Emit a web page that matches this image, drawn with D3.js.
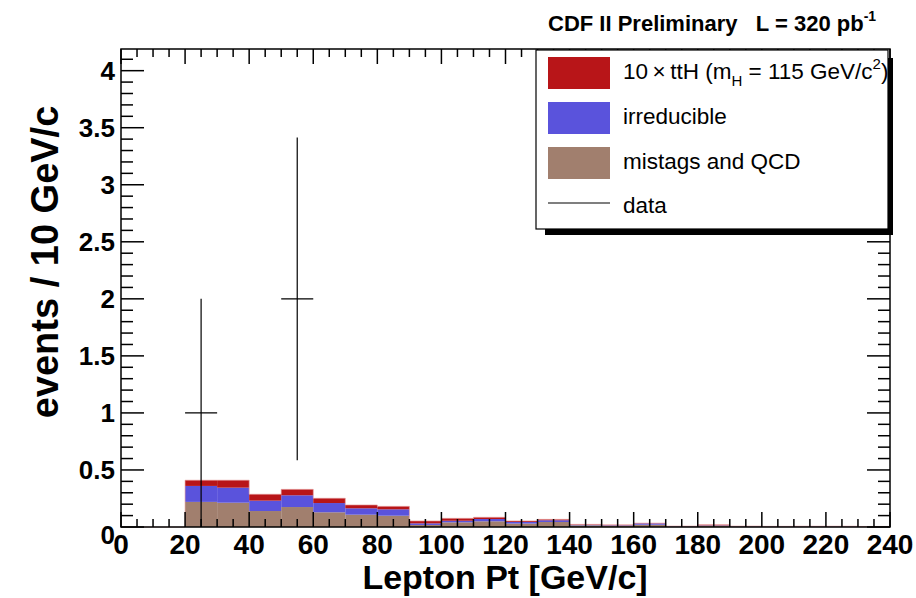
<!DOCTYPE html>
<html>
<head>
<meta charset="utf-8">
<script src="https://cdn.jsdelivr.net/npm/d3@7"></script>
<style>
  html, body { margin: 0; padding: 0; background: #fff; }
  svg { display: block; font-family: "Liberation Sans", Arial, Helvetica, sans-serif; }
</style>
</head>
<body>
<svg id="chart" width="916" height="598"></svg>
<script>
// Bin lower edges (GeV/c), 10 GeV wide
const binEdges = [0,10,20,30,40,50,60,70,80,90,100,110,120,130,140,150,160,170,180,190,200,210,220,230];
const binWidth = 10;

// Stacked backgrounds + signal, events / 10 GeV/c
const mistagsQCD = [0,0,0.220,0.213,0.140,0.175,0.129,0.108,0.099,0.018,0.041,0.050,0.030,0.044,0.015,0.012,0.020,0.005,0.012,0.005,0.003,0.004,0.004,0.003];
const irreducible = [0,0,0.140,0.132,0.091,0.103,0.081,0.056,0.056,0.014,0.014,0.020,0.014,0.015,0.004,0.004,0.012,0.002,0.003,0.002,0.002,0.002,0.002,0.001];
const tthX10 =      [0,0,0.050,0.065,0.056,0.052,0.042,0.029,0.026,0.021,0.021,0.015,0.009,0.008,0.004,0.003,0.002,0.001,0.005,0.001,0.001,0.001,0.001,0.001];

// Observed data (bin centre, count, sqrt(N) error)
const dataX = [25, 55];
const dataY = [1, 2];
const dataErr = [1, Math.SQRT2];

// Axis ticks
const xMajorTicks = [0,20,40,60,80,100,120,140,160,180,200,220,240];
const yMajorTicks = [0,0.5,1,1.5,2,2.5,3,3.5,4];
const yTickLabels = ["0","0.5","1","1.5","2","2.5","3","3.5","4"];

const colors = { mistags: "#a17f6e", irreducible: "#5a53dc", tth: "#b81518" };

const svg = d3.select("#chart");
const L = 121, R = 890, T = 49, B = 527;

const x = d3.scaleLinear().domain([0, 240]).range([L, R]);
const y = d3.scaleLinear().domain([0, 4.19]).range([B, T]);

// Stacked histogram
const rows = binEdges.map((e, i) => ({ lo: e, mistags: mistagsQCD[i], irreducible: irreducible[i], tth: tthX10[i] }));
const stack = d3.stack().keys(["mistags", "irreducible", "tth"]);
const layers = stack(rows);

const plot = svg.append("g");
plot.selectAll("g.layer").data(layers).join("g")
  .attr("class", "layer")
  .attr("fill", d => colors[d.key])
  .selectAll("rect").data(d => d).join("rect")
  .attr("x", d => x(d.data.lo))
  .attr("width", d => x(d.data.lo + binWidth) - x(d.data.lo))
  .attr("y", d => y(d[1]))
  .attr("height", d => Math.max(0, y(d[0]) - y(d[1])));

// Outline of the total stack
const outline = [];
rows.forEach(r => {
  const tot = r.mistags + r.irreducible + r.tth;
  outline.push([r.lo, tot], [r.lo + binWidth, tot]);
});
plot.append("path")
  .attr("d", d3.line().x(d => x(d[0])).y(d => y(d[1]))(outline))
  .attr("fill", "none").attr("stroke", "#e49a9a").attr("stroke-width", 1).attr("opacity", 0.6);

// Frame
svg.append("rect").attr("x", L).attr("y", T).attr("width", R - L).attr("height", B - T)
  .attr("fill", "none").attr("stroke", "#000").attr("stroke-width", 1.5);

// Ticks on all four sides
const tk = svg.append("g").attr("stroke", "#000").attr("stroke-width", 1.5);
const xMinor = d3.range(0, 241, 5);
xMinor.forEach(v => {
  const major = v % 20 === 0;
  const len = major ? 15 : 8;
  tk.append("line").attr("x1", x(v)).attr("x2", x(v)).attr("y1", B).attr("y2", B - len);
  tk.append("line").attr("x1", x(v)).attr("x2", x(v)).attr("y1", T).attr("y2", T + len);
});
const yMinor = d3.range(0, 42).map(i => i / 10);
yMinor.forEach(v => {
  const major = Math.round(v * 10) % 5 === 0;
  const len = major ? 23 : 12;
  tk.append("line").attr("x1", L).attr("x2", L + len).attr("y1", y(v)).attr("y2", y(v));
  tk.append("line").attr("x1", R).attr("x2", R - len).attr("y1", y(v)).attr("y2", y(v));
});

// Data points with error bars
const dg = svg.append("g").attr("stroke", "#000").attr("stroke-width", 1.2);
dataX.forEach((cx, i) => {
  dg.append("line").attr("x1", x(cx)).attr("x2", x(cx))
    .attr("y1", y(Math.max(0, dataY[i] - dataErr[i]))).attr("y2", y(dataY[i] + dataErr[i]));
  dg.append("line").attr("x1", x(cx - binWidth / 2)).attr("x2", x(cx + binWidth / 2))
    .attr("y1", y(dataY[i])).attr("y2", y(dataY[i]));
});

// Tick labels
const lab = svg.append("g").attr("font-weight", "bold").attr("fill", "#000");
xMajorTicks.forEach(v => {
  lab.append("text").attr("x", x(v)).attr("y", 554).attr("font-size", 28)
    .attr("text-anchor", "middle").text(v);
});
yMajorTicks.forEach((v, i) => {
  lab.append("text").attr("x", 115).attr("y", y(v) + (v === 0 ? 8 : 0)).attr("font-size", 26)
    .attr("dy", "0.36em").attr("text-anchor", "end").text(yTickLabels[i]);
});

// Axis titles
svg.append("text").attr("x", 505).attr("y", 589).attr("text-anchor", "middle")
  .attr("font-weight", "bold").attr("font-size", 34).text("Lepton Pt [GeV/c]");
svg.append("text").attr("transform", "translate(58,262) rotate(-90)").attr("text-anchor", "middle")
  .attr("font-weight", "bold").attr("font-size", 38).text("events / 10 GeV/c");

// Header
const hdr = svg.append("text").attr("x", 548).attr("y", 31).attr("font-weight", "bold")
  .attr("font-size", 22).attr("xml:space", "preserve").style("white-space", "pre");
hdr.append("tspan").text("CDF II Preliminary   L = 320 pb");
hdr.append("tspan").attr("dy", -10).attr("font-size", 14).text("-1");

// Legend with drop shadow
const lg = svg.append("g");
lg.append("rect").attr("x", 545).attr("y", 58).attr("width", 348).attr("height", 177).attr("fill", "#000");
lg.append("rect").attr("x", 536).attr("y", 50).attr("width", 352).attr("height", 179)
  .attr("fill", "#fff").attr("stroke", "#000").attr("stroke-width", 1.2);

const legendItems = [
  { key: "tth", y0: 57 },
  { key: "irreducible", y0: 102 },
  { key: "mistags", y0: 147 }
];
legendItems.forEach(it => {
  lg.append("rect").attr("x", 548).attr("y", it.y0).attr("width", 62).attr("height", 32).attr("fill", colors[it.key]);
});
lg.append("line").attr("x1", 548).attr("x2", 610).attr("y1", 203).attr("y2", 203)
  .attr("stroke", "#000").attr("stroke-width", 1.2);

const lt = lg.append("g").attr("font-size", 22.5).attr("fill", "#000");
const t1 = lt.append("text").attr("x", 623).attr("y", 79);
t1.append("tspan").text("10\u2009\u00d7\u2009ttH (m");
t1.append("tspan").attr("dy", 7).attr("font-size", 15).text("H");
t1.append("tspan").attr("dy", -7).text(" = 115 GeV/c");
t1.append("tspan").attr("dy", -10).attr("font-size", 15).text("2");
t1.append("tspan").attr("dy", 10).text(")");
lt.append("text").attr("x", 623).attr("y", 124).text("irreducible");
lt.append("text").attr("x", 623).attr("y", 169).text("mistags and QCD");
lt.append("text").attr("x", 623).attr("y", 213).text("data");
</script>
</body>
</html>
